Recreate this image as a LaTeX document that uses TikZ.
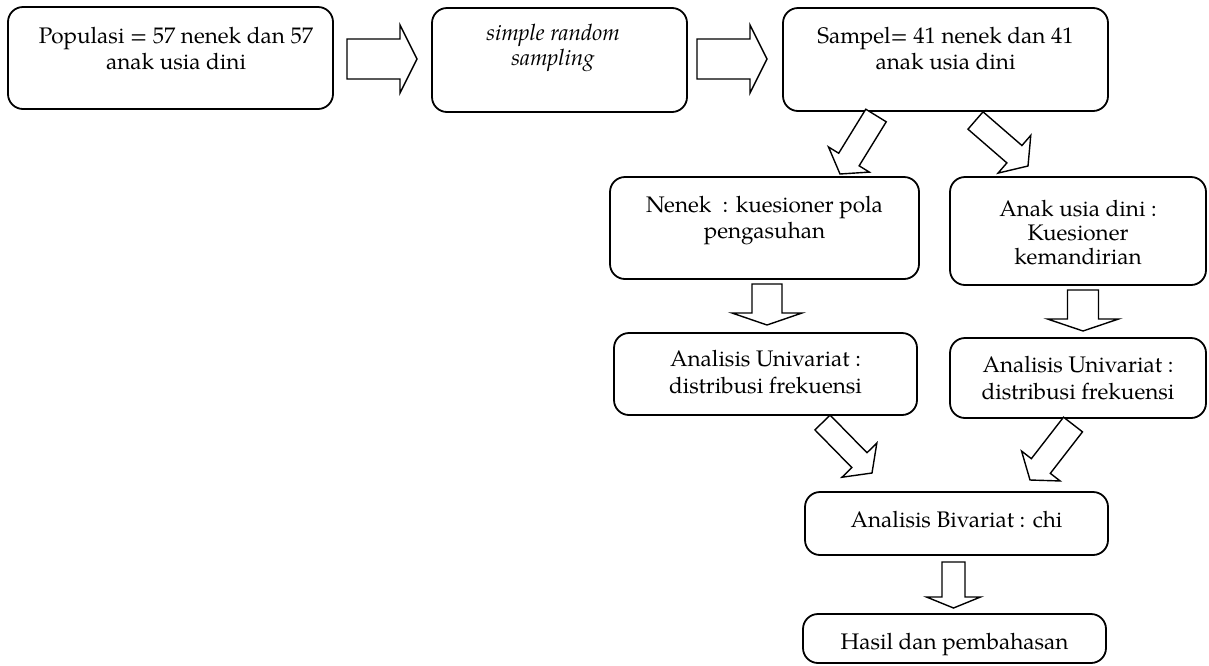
\documentclass[tikz,border=0pt]{standalone}
\usepackage{fontspec}
\setmainfont{TeX Gyre Pagella}
\usetikzlibrary{calc}
\tikzset{
  boxshape/.style={draw=black, line width=1.8pt, rounded corners=15pt, inner sep=0pt, fill=white},
  txt/.style={font=\fontsize{22.5}{27}\selectfont, inner sep=0pt, anchor=base},
  arrowline/.style={draw=black, line width=1.4pt, line join=miter, fill=white}
}
% #1 start, #2 tip, #3 shaft half width, #4 head half width, #5 head length
\newcommand{\blockarr}[5]{%
  \coordinate (#1h) at ($(#2)!#5!(#1)$);
  \draw[arrowline] ($(#1)!#3!90:(#2)$) -- ($(#1h)!#3!90:(#2)$) -- ($(#1h)!#4!90:(#2)$)
    -- (#2) -- ($(#1h)!#4!-90:(#2)$) -- ($(#1h)!#3!-90:(#2)$) -- ($(#1)!#3!-90:(#2)$) -- cycle;
}
\begin{document}
\begin{tikzpicture}[x=1pt,y=-1pt]
\useasboundingbox (0,0) rectangle (1209,665);
% boxes
\node[boxshape, minimum width=325pt, minimum height=102pt] (pop) at (170.5,58) {};
\node[boxshape, minimum width=255pt, minimum height=104pt] (srs) at (559.5,60) {};
\node[boxshape, minimum width=325pt, minimum height=103pt] (smp) at (945.5,59.5) {};
\node[boxshape, minimum width=309pt, minimum height=102pt] (nen) at (764.5,228) {};
\node[boxshape, minimum width=256pt, minimum height=108pt] (ank) at (1078,231) {};
\node[boxshape, minimum width=303pt, minimum height=82pt] (un1) at (765.5,374) {};
\node[boxshape, minimum width=256pt, minimum height=80pt] (un2) at (1078,378) {};
\node[boxshape, minimum width=303pt, minimum height=63pt] (biv) at (956.5,523.5) {};
\node[boxshape, minimum width=303pt, minimum height=49pt] (has) at (954.5,638.5) {};
% texts
\node[txt] (pop1) at (176,43) {Populasi = 57 nenek dan 57};
\node[txt] (pop2) at (176,69) {anak usia dini};
\node[txt] (srs1) at (553,40) {\itshape simple random};
\node[txt] (srs2) at (553,65) {\itshape sampling};
\node[txt] (smp1) at (945.5,43) {Sampel= 41 nenek dan 41};
\node[txt] (smp2) at (945.5,69) {anak usia dini};
\node[txt] (nen1) at (764.5,212) {Nenek\ \ : kuesioner pola};
\node[txt] (nen2) at (764.5,238) {pengasuhan};
\node[txt] (ank1) at (1078,216) {Anak usia dini :};
\node[txt] (ank2) at (1078,240) {Kuesioner};
\node[txt] (ank3) at (1078,264) {kemandirian};
\node[txt] (un11) at (765.5,366) {Analisis Univariat :};
\node[txt] (un12) at (765.5,393) {distribusi frekuensi};
\node[txt] (un21) at (1078,372) {Analisis Univariat :};
\node[txt] (un22) at (1078,399) {distribusi frekuensi};
\node[txt] (biv1) at (956.5,527) {Analisis Bivariat : chi};
\node[txt] (has1) at (954.5,649) {Hasil dan pembahasan};
% arrow anchor coordinates
\coordinate (s1) at (347,59);   \coordinate (t1) at (417,59);
\coordinate (s2) at (697,59);   \coordinate (t2) at (767,59);
\coordinate (s3) at (876,115.5); \coordinate (t3) at (840,174);
\coordinate (s4) at (975.5,120.5); \coordinate (t4) at (1028,166);
\coordinate (s5) at (767,284);  \coordinate (t5) at (767,325);
\coordinate (s6) at (1083,290); \coordinate (t6) at (1083,331);
\coordinate (s7) at (822.5,422.5); \coordinate (t7) at (872,473);
\coordinate (s8) at (1073,424.5); \coordinate (t8) at (1030,480);
\coordinate (s9) at (953.5,562); \coordinate (t9) at (953.5,608);
\blockarr{s1}{t1}{20pt}{34pt}{17pt}
\blockarr{s2}{t2}{20pt}{34pt}{17pt}
\blockarr{s3}{t3}{12pt}{24pt}{17pt}
\blockarr{s4}{t4}{11.5pt}{25pt}{18pt}
\blockarr{s5}{t5}{15pt}{35pt}{12pt}
\blockarr{s6}{t6}{15.5pt}{35.5pt}{12pt}
\blockarr{s7}{t7}{10.6pt}{24.4pt}{18pt}
\blockarr{s8}{t8}{12pt}{24.4pt}{17.7pt}
\blockarr{s9}{t9}{11.5pt}{27pt}{11pt}
\end{tikzpicture}
\end{document}
